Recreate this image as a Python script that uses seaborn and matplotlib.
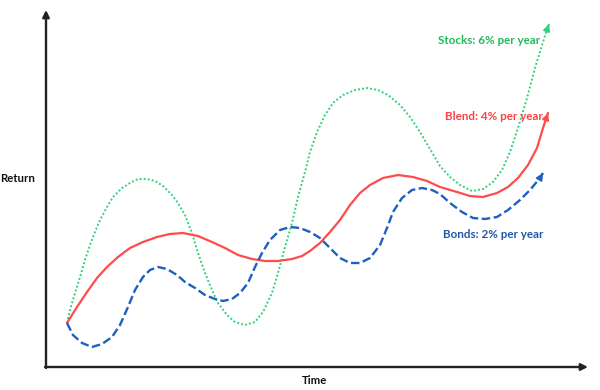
import matplotlib
matplotlib.use("Agg")
import matplotlib.pyplot as plt
import seaborn as sns

# values (time units, return units), no grid / no ticks in the source
stocks_t = [21, 24, 29, 34, 39, 44, 49, 54, 61, 67, 76, 84, 92, 101, 109, 117, 126, 132, 139, 146,
            152, 159, 166, 172, 181, 189, 199, 209, 217, 226, 232, 239, 246, 252, 259, 264, 271, 279, 287, 297,
            309, 321, 332, 342, 354, 364, 374, 384, 394, 404, 414, 426, 437, 447, 456, 464, 472, 481, 489, 497,
            503]
stocks_r = [44, 57, 74, 90, 107, 122, 135, 147, 160, 170, 179, 184, 188, 188, 186, 181, 172, 164, 152, 134,
            114, 94, 77, 64, 52, 45, 42, 45, 55, 74, 94, 120, 144, 170, 195, 215, 235, 252, 264, 272,
            277, 279, 277, 272, 262, 250, 235, 218, 201, 190, 182, 176, 178, 185, 197, 215, 239, 269, 299, 325,
            343]

blend_t = [21, 31, 41, 51, 61, 72, 84, 97, 111, 124, 137, 152, 166, 179, 192, 206, 219, 232, 246, 256,
           264, 274, 284, 294, 304, 314, 324, 337, 352, 367, 381, 394, 411, 424, 437, 451, 462, 472, 482, 491,
           497, 502]
blend_r = [44, 60, 75, 89, 100, 110, 119, 125, 130, 133, 134, 131, 125, 119, 112, 108, 106, 106, 108, 111,
           116, 124, 135, 147, 162, 174, 182, 189, 192, 190, 186, 180, 175, 171, 170, 174, 180, 189, 202, 219,
           239, 254]

bonds_t = [21, 27, 36, 46, 56, 66, 74, 82, 89, 97, 104, 112, 121, 131, 139, 149, 159, 169, 177, 186,
           194, 202, 209, 216, 224, 234, 244, 254, 264, 274, 284, 294, 304, 314, 324, 334, 341, 347, 356, 366,
           376, 386, 394, 404, 416, 427, 439, 451, 462, 474, 484, 494, 497]
bonds_r = [44, 32, 24, 20, 23, 30, 42, 60, 77, 90, 97, 100, 98, 92, 85, 79, 72, 68, 66, 68,
           74, 84, 100, 114, 127, 137, 140, 139, 135, 129, 119, 109, 104, 104, 109, 122, 139, 155, 169, 177,
           179, 177, 173, 164, 155, 149, 148, 150, 157, 167, 177, 189, 194]

labels = ["Stocks: 6% per year", "Blend: 4% per year", "Bonds: 2% per year"]

sns.set_style("white")
plt.rcParams["font.family"] = ["Lato", "DejaVu Sans"]

fig = plt.figure(figsize=(6, 3.9), dpi=100)
ax = fig.add_axes([0, 0, 1, 1])

GREEN = "#33d17a"
RED = "#ff4b4b"
BLUE = "#1f5fbf"

sns.lineplot(x=stocks_t, y=stocks_r, sort=False, ax=ax, color=GREEN, linewidth=1.4,
             linestyle=(0, (1, 1.1)), estimator=None, dash_capstyle="butt")
sns.lineplot(x=blend_t, y=blend_r, sort=False, ax=ax, color=RED, linewidth=1.6, estimator=None,
             solid_joinstyle="round")
sns.lineplot(x=bonds_t, y=bonds_r, sort=False, ax=ax, color=BLUE, linewidth=1.7,
             linestyle=(0, (3.6, 1.5)), estimator=None, dash_joinstyle="round")

# arrow heads at the end of each curve
for tt, rr, c in [(stocks_t, stocks_r, GREEN), (blend_t, blend_r, RED), (bonds_t, bonds_r, BLUE)]:
    x1, y1 = tt[-1], rr[-1]
    x0, y0 = tt[-2], rr[-2]
    ax.annotate("", xy=(x1, y1), xytext=(x1 - 0.3 * (x1 - x0), y1 - 0.3 * (y1 - y0)),
                arrowprops=dict(arrowstyle="-|>,head_length=0.4,head_width=0.2", color=c,
                                lw=1.3, shrinkA=0, shrinkB=0))

ax.set_xlim(-46, 554)
ax.set_ylim(-23, 367)
ax.axis("off")

# axes drawn as arrows
ax.annotate("", xy=(0, 357), xytext=(0, -1),
            arrowprops=dict(arrowstyle="-|>,head_length=0.4,head_width=0.2", color="#222222",
                            lw=1.7, shrinkA=0, shrinkB=0))
ax.annotate("", xy=(542, 0), xytext=(-1, 0),
            arrowprops=dict(arrowstyle="-|>,head_length=0.4,head_width=0.2", color="#222222",
                            lw=1.7, shrinkA=0, shrinkB=0))

ax.text(-46, 188, "Return", fontsize=8.2, fontweight="bold", color="#111111", ha="left", va="center")
ax.text(268, -14, "Time", fontsize=8.2, fontweight="bold", color="#111111", ha="center", va="center")

ax.text(494, 327, labels[0], fontsize=8.4, fontweight="bold", color="#22b85a", ha="right", va="center")
ax.text(497, 250, labels[1], fontsize=8.4, fontweight="bold", color="#ff4040", ha="right", va="center")
ax.text(497, 133, labels[2], fontsize=8.4, fontweight="bold", color="#2356a8", ha="right", va="center")

fig.savefig("out.png", dpi=100)
